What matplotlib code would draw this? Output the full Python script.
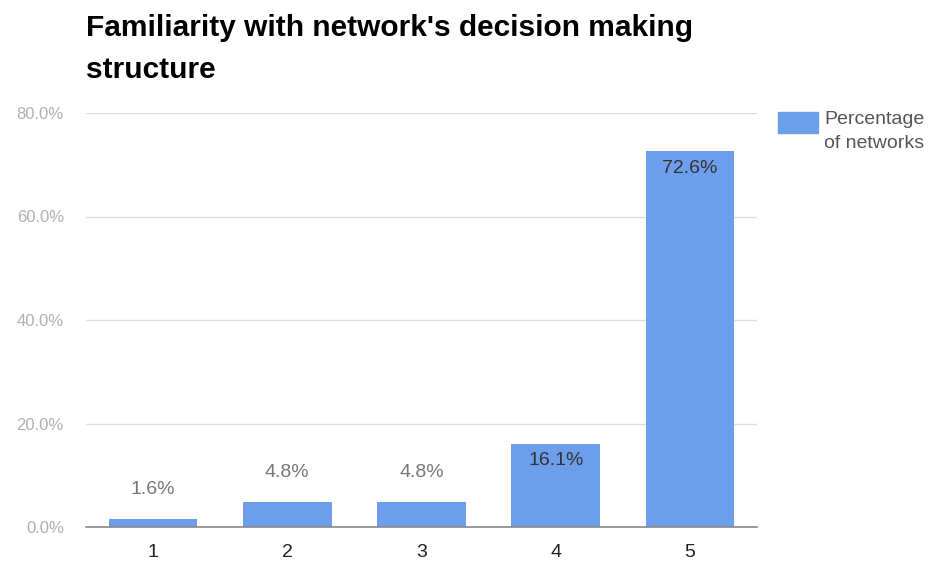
import numpy as np
import matplotlib.pyplot as plt

plt.rcParams['font.family'] = ['Liberation Sans', 'DejaVu Sans']

categories = ["1", "2", "3", "4", "5"]
values = [1.6, 4.8, 4.8, 16.1, 72.6]
yticks = [0, 20, 40, 60, 80]
series_name = "Percentage\nof networks"

bar_color = "#6d9eeb"

fig = plt.figure(figsize=(9.33, 5.62), dpi=100)
ax = fig.add_axes([86/933, 35/562, (757-86)/933, (527-113)/562])

x = np.arange(len(categories))
bars = ax.bar(x, values, width=0.66, color=bar_color, zorder=3)

ax.set_xlim(-0.5, len(categories) - 0.5)
ax.set_ylim(0, 80)
ax.set_yticks(yticks)
ax.set_yticklabels([f"{v:.1f}%" for v in yticks], color="#b0b0b0", fontsize=12)
ax.set_xticks(x)
ax.set_xticklabels(categories, fontsize=14, color="#222222")
ax.tick_params(axis="x", length=0, pad=12)
ax.tick_params(axis="y", length=0, pad=16)

ax.grid(axis="y", color="#dddddd", linewidth=1, zorder=0)
for s in ["top", "right", "left"]:
    ax.spines[s].set_visible(False)
ax.spines["bottom"].set_color("#888888")
ax.spines["bottom"].set_linewidth(1.2)
ax.spines["bottom"].set_zorder(4)

# value labels: above short bars, inside the top of tall ones
for xi, v in zip(x, values):
    txt = f"{v:.1f}%"
    if v > 10:
        ax.annotate(txt, (xi, v), xytext=(0, -6), textcoords="offset points",
                    ha="center", va="top", fontsize=14, color="#333333", zorder=5)
    else:
        ax.annotate(txt, (xi, v), xytext=(0, 15), textcoords="offset points",
                    ha="center", va="bottom", fontsize=14, color="#777777", zorder=5)

fig.text(86/933, 1 - 49/562, "Familiarity with network's decision making\nstructure",
         fontsize=21.5, fontweight="bold", color="black", va="center", ha="left",
         linespacing=1.67)

# legend
fig.patches.append(plt.Rectangle((778/933, 1 - 133/562), 40/933, 21/562,
                                 transform=fig.transFigure, color=bar_color))
fig.text(824/933, 1 - 111/562, series_name, fontsize=14, color="#555555",
         va="top", ha="left", linespacing=1.5)

fig.savefig("out.png", dpi=100)
